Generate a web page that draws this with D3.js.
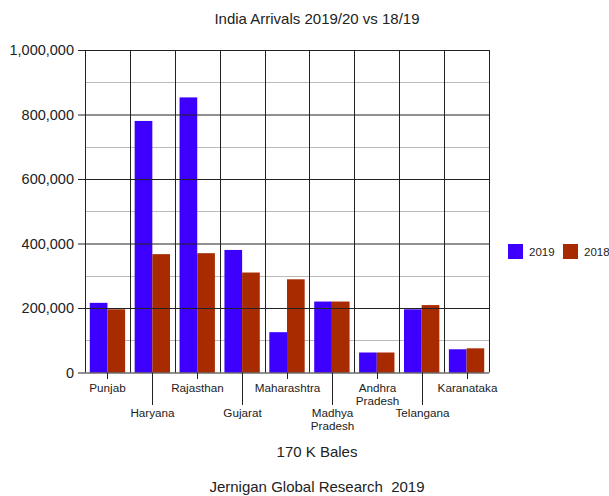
<!DOCTYPE html>
<html lang="en">
  <head>
    <meta charset="UTF-8" />
    <title>India Arrivals 2019/20 vs 18/19</title>
    <script src="https://cdnjs.cloudflare.com/ajax/libs/d3/7.8.5/d3.min.js"></script>
    <style>
      body { margin: 0; background: #fff; }
      text { font-family: "Liberation Sans", Arial, sans-serif; fill: #222; white-space: pre; }
    </style>
  </head>
  <body>
    <div id="chart"></div>
    <script>
      /** Data */
      const states = [
        "Punjab", "Haryana", "Rajasthan", "Gujarat", "Maharashtra",
        "Madhya Pradesh", "Andhra Pradesh", "Telangana", "Karanataka",
      ];
      const labelLines = [
        ["Punjab"], ["Haryana"], ["Rajasthan"], ["Gujarat"], ["Maharashtra"],
        ["Madhya", "Pradesh"], ["Andhra", "Pradesh"], ["Telangana"], ["Karanataka"],
      ];
      const years = ["2019", "2018"];
      const values2019 = [216000, 780000, 853000, 380000, 125000, 220000, 62000, 196000, 72000];
      const values2018 = [196000, 367000, 370000, 310000, 289000, 220000, 62000, 209000, 75000];
      const yTicks = [0, 200000, 400000, 600000, 800000, 1000000];
      const yMinorTicks = [100000, 300000, 500000, 700000, 900000];

      /** Graph configs */
      const width = 609;
      const height = 496;
      const plotLeft = 85;
      const plotRight = 489;
      const plotTop = 50;
      const plotBottom = 372.5;
      const colors = ["#3d00ff", "#a82b00"];

      const svg = d3.select("#chart").append("svg")
        .attr("width", width).attr("height", height);

      const x = d3.scaleBand().domain(states).range([plotLeft, plotRight]).padding(0);
      const xInner = d3.scaleBand().domain(years).range([0, x.bandwidth()]).paddingOuter(0.27).paddingInner(0);
      const y = d3.scaleLinear().domain([0, 1000000]).range([plotBottom, plotTop]);

      /** Minor gridlines */
      svg.append("g")
        .selectAll("line").data(yMinorTicks).join("line")
        .attr("x1", plotLeft).attr("x2", plotRight)
        .attr("y1", d => Math.round(y(d)) + 0.5).attr("y2", d => Math.round(y(d)) + 0.5)
        .attr("stroke", "#bbb");

      /** Bars */
      const rows = states.map((s, i) => ({ state: s, vals: [values2019[i], values2018[i]] }));
      svg.append("g")
        .selectAll("g").data(rows).join("g")
        .attr("transform", d => `translate(${x(d.state)},0)`)
        .selectAll("rect").data(d => d.vals.map((v, j) => ({ year: years[j], v, j })))
        .join("rect")
        .attr("x", d => xInner(d.year))
        .attr("width", xInner.bandwidth())
        .attr("y", d => y(d.v))
        .attr("height", d => plotBottom - y(d.v))
        .attr("fill", d => colors[d.j]);

      /** Major gridlines + y axis */
      const yAxis = d3.axisLeft(y).tickValues(yTicks).tickSize(-(plotRight - plotLeft))
        .tickFormat(d3.format(","));
      const yg = svg.append("g").attr("transform", `translate(${plotLeft},0)`).call(yAxis);
      yg.select(".domain").remove();
      yg.selectAll(".tick line").attr("stroke", "#222").attr("x1", -7);
      yg.selectAll(".tick text")
        .attr("x", -11)
        .style("font-size", "14.5px")
        .style("font-family", "'Liberation Sans', Arial, sans-serif")
        .attr("fill", "#222");

      /** Vertical category separators */
      const seps = states.map(s => x(s)).concat([plotRight]);
      svg.append("g")
        .selectAll("line").data(seps).join("line")
        .attr("x1", d => Math.round(d) + 0.5).attr("x2", d => Math.round(d) + 0.5)
        .attr("y1", plotTop).attr("y2", plotBottom)
        .attr("stroke", "#222");

      /** X axis labels with staggered ticks */
      const xl = svg.append("g");
      states.forEach((s, i) => {
        const cx = Math.round(x(s) + x.bandwidth() / 2) + 0.5;
        const low = i % 2 === 1;
        xl.append("line")
          .attr("x1", cx).attr("x2", cx)
          .attr("y1", plotBottom).attr("y2", low ? 405 : 379)
          .attr("stroke", "#222");
        const t = xl.append("text")
          .attr("text-anchor", "middle")
          .attr("y", low ? 417 : 392)
          .style("font-size", "11.7px");
        labelLines[i].forEach((ln, k) => {
          t.append("tspan").attr("x", cx).attr("dy", k === 0 ? 0 : 13).text(ln);
        });
      });

      /** Legend */
      const lg = svg.append("g").attr("transform", "translate(508,244)");
      [[0, 0], [1, 55]].forEach(([j, dx]) => {
        lg.append("rect").attr("x", dx).attr("y", 0).attr("width", 15).attr("height", 15)
          .attr("fill", colors[j]);
        lg.append("text").attr("x", dx + 21).attr("y", 12).style("font-size", "11.5px").text(years[j]);
      });

      /** Titles */
      svg.append("text").attr("x", 317).attr("y", 24).attr("text-anchor", "middle")
        .style("font-size", "15px").text("India Arrivals 2019/20 vs 18/19");
      svg.append("text").attr("x", 317).attr("y", 457).attr("text-anchor", "middle")
        .style("font-size", "15px").text("170 K Bales");
      svg.append("text").attr("x", 317).attr("y", 492).attr("text-anchor", "middle")
        .style("font-size", "15px").text("Jernigan Global Research  2019");
    </script>
  </body>
</html>
